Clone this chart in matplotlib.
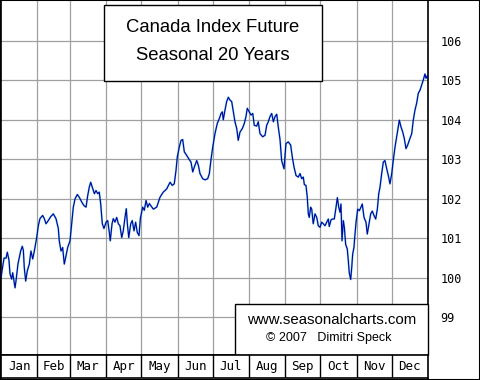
import matplotlib
matplotlib.use("Agg")
import matplotlib.pyplot as plt
from matplotlib.patches import Rectangle

# Datos de la curva estacional (dia del anio, valor)
dias = [0, 1.5, 2.6, 4.3, 5.4, 6.8, 7.7, 9.1, 10, 12, 12.8, 14.5, 16.8, 18.2, 19.1, 19.9,
        21.1, 22.5, 24.2, 25.6, 27.1, 28.5, 30.5, 31.9, 33.3, 35.6, 37, 38.5, 40.4, 42.5,
        44.7, 47, 49, 49.8, 51.3, 52.7, 54.1, 55.6, 57, 59, 60.4, 61.8, 63.3, 65.2, 66.9,
        69, 70.9, 72.7, 74.1, 75.5, 76.7, 78.4, 79.8, 81.2, 82.7, 84, 85.2, 86.6, 88, 89.8,
        91.2, 92.6, 93.4, 94.9, 96, 97.4, 98.9, 100.3, 101.7, 103.2, 104.5, 106, 107.1, 108,
        109.2, 110.9, 112.2, 113.7, 115.1, 116.5, 118, 119.1, 121.1, 122.5, 124, 125.4, 126.8,
        130.2, 133.1, 135.9, 138.7, 141.6, 144.5, 146.4, 148.1, 149.6, 150.7, 152.4, 153.9,
        155.3, 156.7, 158.7, 161, 162.4, 163.9, 165.2, 167.3, 168.7, 170.1, 172.4, 174.4,
        176.7, 178.1, 179.5, 181, 182.9, 184.9, 186.6, 188.1, 189.2, 190, 191.5, 192.9, 194.3,
        195.7, 197.2, 198.6, 200, 201.5, 202.8, 204.3, 206.3, 208, 209.4, 210.5, 212.2, 213.7,
        215.2, 216.5, 218.6, 219.9, 221.4, 223.7, 225.7, 227.1, 228.5, 229.9, 231.4, 232.8,
        234.2, 235.7, 237, 238.5, 239.9, 241.9, 243.6, 245.6, 247.6, 249, 250.5, 252.2, 254.1,
        255.6, 257, 258.4, 259.3, 260.7, 261.8, 262.7, 263.5, 264.7, 265.6, 266.9, 268.4,
        269.9, 271.2, 272.7, 274.1, 275.5, 277, 278.4, 279.8, 280.6, 282.1, 283.5, 284.9,
        286.4, 287.5, 288.7, 289.8, 290.6, 291.5, 292.6, 293.5, 294.6, 296, 296.9, 297.7,
        298.9, 299.8, 300.6, 301.7, 302.6, 303.5, 304.9, 306.3, 307.7, 308.8, 310.3, 312,
        313.1, 314.6, 316, 317.4, 318.8, 320.3, 321.7, 322.9, 324, 325.4, 326.8, 328.2, 329.7,
        331.1, 332.5, 334, 335.3, 336.8, 338.2, 339.6, 340.5, 341.9, 343.4, 344.7, 346.2,
        347.6, 349, 351.1, 352.4, 353.9, 355.3, 356.7, 358.2, 359.6, 361, 362.4, 363.3, 364.4,
        365]
valores = [100.0, 100.3, 100.5, 100.5, 100.65, 100.45, 100.1, 99.97, 100.13, 99.75, 99.92,
           100.35, 100.68, 100.8, 100.7, 100.26, 99.92, 100.18, 100.35, 100.68, 100.48, 100.68,
           101.02, 101.32, 101.5, 101.58, 101.5, 101.37, 101.45, 101.55, 101.62, 101.5, 101.25,
           100.94, 100.68, 100.77, 100.35, 100.56, 100.77, 100.94, 101.37, 101.79, 102.0,
           102.11, 102.04, 101.92, 101.83, 101.79, 102.08, 102.3, 102.42, 102.26, 102.13,
           102.21, 102.13, 102.17, 101.88, 101.37, 101.25, 101.41, 101.45, 101.15, 100.94,
           101.37, 101.5, 101.41, 101.53, 101.37, 101.32, 101.02, 101.19, 101.53, 101.75,
           101.37, 101.02, 101.37, 101.45, 101.19, 101.41, 101.15, 101.07, 101.5, 101.79,
           101.71, 101.96, 101.79, 101.88,
           101.74, 101.79, 102.04, 102.17, 102.25, 102.42, 102.34, 102.38, 102.72, 103.06,
           103.31, 103.48, 103.5, 103.19, 103.1, 102.99, 102.93, 102.68, 102.8, 102.97, 102.85,
           102.64, 102.51, 102.48, 102.51, 102.64, 102.99, 103.31, 103.65, 103.91, 104.03,
           104.16, 104.2, 104.0, 104.25, 104.46, 104.57, 104.5, 104.46, 104.2, 103.95, 103.78,
           103.48, 103.69, 103.78, 103.91, 104.08, 104.29, 104.2, 104.12, 104.16, 103.86,
           103.84, 103.95, 103.65, 103.57, 103.61, 103.86, 103.95, 104.08, 104.16, 103.95,
           104.08, 104.14, 103.82, 103.5, 102.97, 102.76, 103.4, 103.44, 103.36, 103.06, 102.8,
           102.59, 102.55, 102.64, 102.51, 102.55, 102.36, 102.34, 102.04, 101.62, 101.53,
           101.79, 101.74, 101.37, 101.62, 101.53, 101.32, 101.28, 101.41, 101.37, 101.32,
           101.41, 101.49, 101.3, 101.47, 101.49, 101.49, 101.79, 102.03, 101.79, 101.66,
           101.87, 100.94, 101.45, 101.28, 100.85, 100.73, 100.43, 100.13, 99.96, 100.26,
           100.6, 100.77, 101.11, 101.41, 101.74, 101.7, 101.79, 101.87, 101.53, 101.41,
           101.11, 101.37, 101.62, 101.69, 101.58, 101.49, 101.74, 102.13, 102.3, 102.64,
           102.93, 102.97, 102.76, 102.59, 102.38, 102.64, 102.97, 103.31, 103.57, 103.82,
           103.99, 103.82, 103.69, 103.53, 103.27, 103.36, 103.48, 103.65, 103.99, 104.25,
           104.42, 104.67, 104.75, 104.88, 105.01, 105.16, 105.05, 105.11, 105.05]

meses = ['Jan', 'Feb', 'Mar', 'Apr', 'May', 'Jun', 'Jul', 'Aug', 'Sep', 'Oct', 'Nov', 'Dec']
limitesMes = [0, 31, 59, 90, 120, 151, 181, 212, 243, 273, 304, 334, 365]
nivelesY = [99, 100, 101, 102, 103, 104, 105, 106]

W, H = 480, 380
fig = plt.figure(figsize=(W / 100, H / 100), dpi=100)
fig.patch.set_facecolor('white')

# Area del grafico
ax = fig.add_axes([1 / W, 25 / H, 427 / W, 355 / H])
ax.set_xlim(0, 365)
ax.set_ylim(98.05, 107.03)
for v in nivelesY:
    ax.axhline(v, color='#a0a0a0', lw=0.9, zorder=1)
for d in limitesMes[1:-1]:
    ax.axvline(d, color='#a0a0a0', lw=0.9, zorder=1)
ax.plot(dias, valores, color='#00b0c8', lw=1.4, zorder=2, alpha=0.5)
ax.plot(dias, valores, color='#0000a0', lw=0.8, zorder=3)

ax.set_xticks([])
ax.yaxis.tick_right()
ax.set_yticks(nivelesY)
ax.set_yticklabels([str(v) for v in nivelesY], family='DejaVu Sans Mono', fontsize=8.5)
ax.tick_params(axis='y', length=0, pad=9)
for s in ax.spines.values():
    s.set_color('black')
    s.set_linewidth(1.2)

# Cuadro del titulo
ax.add_patch(Rectangle((104 / W, 1 - 81 / H), 218 / W, 76 / H, transform=fig.transFigure,
                       facecolor='white', edgecolor='black', lw=1.0, zorder=5, clip_on=False))
ax.text(213 / W, 1 - 27 / H, 'Canada Index Future', transform=fig.transFigure, ha='center',
        va='center', fontsize=13.3, family='Liberation Sans', zorder=6)
ax.text(213 / W, 1 - 55 / H, 'Seasonal 20 Years', transform=fig.transFigure, ha='center',
        va='center', fontsize=13.3, family='Liberation Sans', zorder=6)

# Cuadro de la fuente
ax.add_patch(Rectangle((235 / W, 25 / H), 193 / W, 51 / H, transform=fig.transFigure,
                       facecolor='white', edgecolor='black', lw=1.0, zorder=5, clip_on=False))
ax.text(332 / W, 1 - 320 / H, 'www.seasonalcharts.com', transform=fig.transFigure,
        ha='center', va='center', fontsize=10.8, family='Liberation Sans', zorder=6)
ax.text(329 / W, 1 - 338 / H, '\u00a9 2007   Dimitri Speck', transform=fig.transFigure,
        ha='center', va='center', fontsize=9, family='Liberation Sans', zorder=6)

# Fila de meses
axm = fig.add_axes([1 / W, 2 / H, 427 / W, 23 / H])
axm.set_xlim(0, 365)
axm.set_ylim(0, 1)
axm.set_xticks([])
axm.set_yticks([])
for d in limitesMes[1:-1]:
    axm.axvline(d, color='black', lw=1.0)
for i, m in enumerate(meses):
    axm.text((limitesMes[i] + limitesMes[i + 1]) / 2, 0.5, m, ha='center', va='center',
             family='DejaVu Sans Mono', fontsize=9)
for s in axm.spines.values():
    s.set_linewidth(1.2)

# Marco exterior
fig.patches.append(Rectangle((0, 0), 1, 1, transform=fig.transFigure, fill=False,
                             edgecolor='black', lw=1.5))

fig.savefig('out.png', dpi=100)
